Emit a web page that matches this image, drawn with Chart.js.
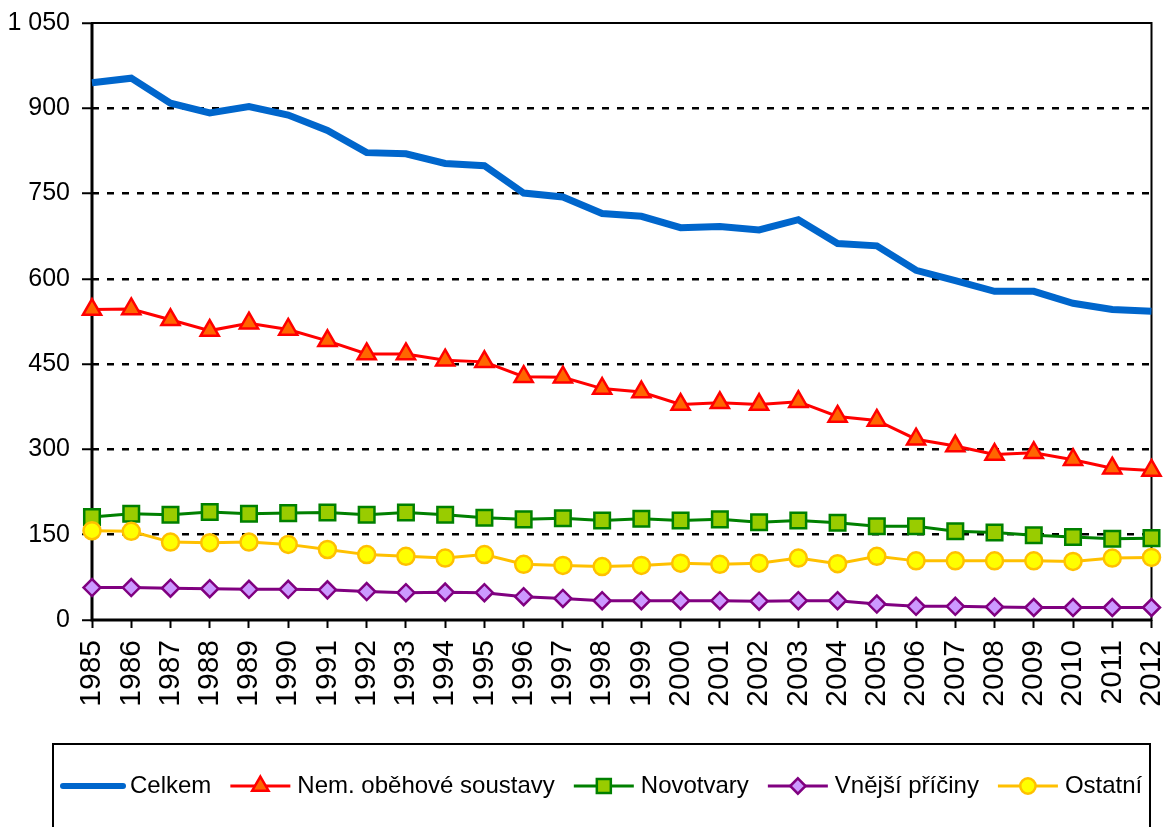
<!DOCTYPE html>
<html>
<head>
<meta charset="utf-8">
<script src="https://cdn.jsdelivr.net/npm/chart.js@4"></script>
<style>
	html, body { margin: 0; padding: 0; background: #fff; }
	#deathchart { display: block; }
</style>
</head>
<body>
<canvas id="deathchart" width="1165" height="827"></canvas>
<script>
// Years on the x-axis
const years = ['1985', '1986', '1987', '1988', '1989', '1990', '1991', '1992', '1993', '1994', '1995', '1996', '1997', '1998',
	'1999', '2000', '2001', '2002', '2003', '2004', '2005', '2006', '2007', '2008', '2009', '2010', '2011', '2012'];
// Series values
const celkem = [945, 953, 909, 892, 903, 888, 861, 822, 820, 803, 799, 751, 744, 715, 710, 690, 692, 686, 704, 662, 658, 615, 597, 578, 578, 557, 546, 543];
const nemObehove = [546, 547, 528, 509, 522, 511, 491, 468, 468, 457, 454, 428, 427, 407, 401, 379, 382, 379, 384, 358, 351, 318, 306, 291, 294, 282, 267, 263];
const novotvary = [181, 187, 185, 190, 187, 188, 189, 185, 189, 185, 180, 177, 179, 175, 178, 175, 177, 172, 175, 171, 165, 165, 156, 154, 149, 146, 143, 144];
const vnejsi = [57, 57, 56, 55, 54, 54, 53, 50, 48, 49, 48, 41, 38, 34, 34, 34, 34, 33, 34, 34, 28, 24, 24, 23, 22, 22, 22, 22];
const ostatni = [157, 156, 137, 136, 137, 133, 124, 115, 112, 109, 115, 98, 96, 94, 96, 100, 98, 100, 109, 99, 112, 104, 104, 104, 104, 103, 109, 110];
// Y-axis range
const yMin = 0;
const yMax = 1050;
const yStep = 150;

Chart.defaults.font.family = '"Liberation Sans", Arial, sans-serif';
Chart.defaults.color = '#000';

// Thousands with a space, e.g. "1 050"
function formatTick(v) {
	return String(v).replace(/\B(?=(\d{3})+(?!\d))/g, ' ');
}

// Black frame round the plot area, drawn below the series
const framePlugin = {
	id: 'frame',
	beforeDatasetsDraw(chart) {
		const a = chart.chartArea, ctx = chart.ctx;
		ctx.save();
		ctx.strokeStyle = '#000';
		ctx.lineWidth = 2;
		ctx.strokeRect(a.left, a.top, a.right - a.left, a.bottom - a.top);
		ctx.lineWidth = 3;
		ctx.beginPath();
		ctx.moveTo(a.left, a.top);
		ctx.lineTo(a.left, a.bottom);
		ctx.lineTo(a.right, a.bottom);
		ctx.stroke();
		ctx.restore();
	}
};

// Boxed legend at the bottom, line + marker like the spreadsheet legend
const boxLegendPlugin = {
	id: 'boxLegend',
	afterDraw(chart) {
		const ctx = chart.ctx;
		const y = 786;
		let x = 63;
		ctx.save();
		ctx.strokeStyle = '#000';
		ctx.lineWidth = 2;
		ctx.strokeRect(53, 744, 1097, 120);
		ctx.font = '24px "Liberation Sans", Arial, sans-serif';
		ctx.textBaseline = 'middle';
		ctx.textAlign = 'left';
		chart.data.datasets.forEach(function (ds) {
			ctx.beginPath();
			ctx.strokeStyle = ds.borderColor;
			ctx.lineWidth = ds.pointRadius ? ds.borderWidth : 6;
			ctx.lineCap = ds.pointRadius ? 'butt' : 'round';
			ctx.moveTo(x, y);
			ctx.lineTo(x + 60, y);
			ctx.stroke();
			if (ds.pointRadius) {
				ctx.fillStyle = ds.pointBackgroundColor;
				ctx.strokeStyle = ds.pointBorderColor;
				ctx.lineWidth = ds.pointBorderWidth;
				Chart.helpers.drawPoint(ctx, {
					pointStyle: ds.pointStyle,
					radius: ds.pointRadius * 0.9,
					rotation: 0,
					borderWidth: ds.pointBorderWidth
				}, x + 30, y);
			}
			ctx.fillStyle = '#000';
			ctx.fillText(ds.label, x + 67, y);
			x += 67 + ctx.measureText(ds.label).width + 19;
		});
		ctx.restore();
	}
};

var deathchart = new Chart('deathchart', {
	type: 'line',
	data: {
		labels: years,
		datasets: [{
			label: 'Celkem',
			data: celkem,
			borderColor: '#0066CC',
			borderWidth: 7,
			pointRadius: 0,
			order: 4
		}, {
			label: 'Nem. oběhové soustavy',
			data: nemObehove,
			borderColor: '#FF0000',
			borderWidth: 3,
			pointStyle: 'triangle',
			pointRadius: 10.5,
			pointBackgroundColor: '#FF6600',
			pointBorderColor: '#FF0000',
			pointBorderWidth: 2.5,
			order: 3
		}, {
			label: 'Novotvary',
			data: novotvary,
			borderColor: '#008000',
			borderWidth: 3,
			pointStyle: 'rect',
			pointRadius: 11,
			pointBackgroundColor: '#99CC00',
			pointBorderColor: '#008000',
			pointBorderWidth: 2.5,
			order: 2
		}, {
			label: 'Vnější příčiny',
			data: vnejsi,
			borderColor: '#800080',
			borderWidth: 3,
			pointStyle: 'rectRot',
			pointRadius: 8.5,
			pointBackgroundColor: '#CC99FF',
			pointBorderColor: '#800080',
			pointBorderWidth: 2.5,
			order: 1
		}, {
			label: 'Ostatní',
			data: ostatni,
			borderColor: '#FFC000',
			borderWidth: 3,
			pointStyle: 'circle',
			pointRadius: 8.5,
			pointBackgroundColor: '#FFFF00',
			pointBorderColor: '#FFC000',
			pointBorderWidth: 2.5,
			order: 0
		}]
	},
	options: {
		responsive: false,
		animation: false,
		clip: false,
		elements: {
			line: { tension: 0, fill: false }
		},
		layout: {
			padding: { top: 23, right: 13, bottom: 0, left: 0 }
		},
		plugins: {
			legend: { display: false },
			tooltip: { enabled: false }
		},
		scales: {
			x: {
				offset: false,
				ticks: {
					color: '#000',
					font: { size: 30 },
					minRotation: 90,
					maxRotation: 90,
					padding: 12,
					autoSkip: false
				},
				grid: {
					drawOnChartArea: false,
					color: '#000',
					tickLength: 8,
					tickWidth: 2
				},
				border: { display: false },
				afterFit: function (scale) {
					scale.height = 207;
					scale.paddingLeft = 0;
					scale.paddingRight = 0;
				}
			},
			y: {
				min: yMin,
				max: yMax,
				ticks: {
					stepSize: yStep,
					color: '#000',
					font: { size: 25 },
					padding: 12,
					callback: function (v) { return formatTick(v); }
				},
				grid: {
					color: function (c) {
						if (c.tick && (c.tick.value === yMin || c.tick.value === yMax)) {
							return 'rgba(0,0,0,0)';
						}
						return '#000';
					},
					lineWidth: 2.5,
					tickColor: '#000',
					tickLength: 10,
					tickWidth: 2,
					tickBorderDash: []
				},
				border: { display: false, dash: [7, 8] },
				afterFit: function (scale) {
					scale.width = 92;
					scale.paddingTop = 0;
					scale.paddingBottom = 0;
				}
			}
		}
	},
	plugins: [framePlugin, boxLegendPlugin]
});
</script>
</body>
</html>
